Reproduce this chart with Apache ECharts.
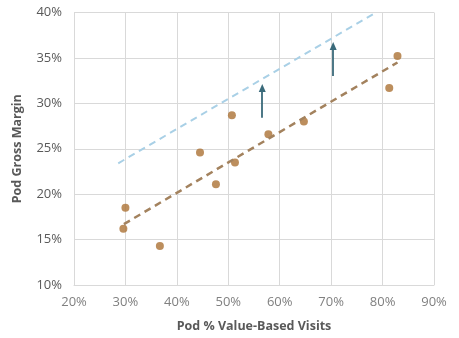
<!DOCTYPE html>
<html><head><meta charset="utf-8">
<script src="https://cdn.jsdelivr.net/npm/echarts@6/dist/echarts.min.js"></script>
<style>html,body{margin:0;padding:0;background:#fff}#c{width:459px;height:338px}</style>
</head><body><div id="c"></div>
<script>
var xTicks = [20, 30, 40, 50, 60, 70, 80, 90];
var yTicks = [10, 15, 20, 25, 30, 35, 40];
var podVisits = [29.6, 30.0, 36.7, 44.5, 47.6, 50.7, 51.3, 57.8, 64.7, 81.3, 82.9];
var podMargin = [16.2, 18.5, 14.3, 24.6, 21.1, 28.7, 23.5, 26.6, 28.0, 31.7, 35.2];
var trendX = [29.7, 82.9];
var trendY = [16.7, 34.5];
var targetX = [28.6, 78.7];
var targetY = [23.4, 40.0];
var arrowX = [56.6, 70.4];
var arrowFrom = [28.4, 33.0];
var arrowTo = [31.7, 36.3];

var pts = podVisits.map(function (v, i) { return [v, podMargin[i]]; });
var trend = trendX.map(function (v, i) { return [v, trendY[i]]; });
var target = targetX.map(function (v, i) { return [v, targetY[i]]; });
var arrows = arrowX.map(function (v, i) { return [{ coord: [v, arrowFrom[i]] }, { coord: [v, arrowTo[i]] }]; });

var font = '"Open Sans", "Liberation Sans", sans-serif';
var chart = echarts.init(document.getElementById('c'));
chart.setOption({
  animation: false,
  grid: { left: 74, top: 12.5, right: 25, bottom: 50.5 },
  xAxis: {
    type: 'value', min: xTicks[0], max: xTicks[xTicks.length - 1], interval: 10,
    name: 'Pod % Value-Based Visits', nameLocation: 'middle', nameGap: 35,
    nameTextStyle: { fontFamily: font, fontWeight: 'bold', fontSize: 12.5, color: '#595959' },
    axisLine: { show: true, lineStyle: { color: '#d9d9d9' } },
    axisTick: { show: false },
    axisLabel: { fontFamily: font, fontSize: 13, color: '#808080', margin: 11, formatter: '{value}%' },
    splitLine: { show: true, lineStyle: { color: '#d9d9d9' } }
  },
  yAxis: {
    type: 'value', min: yTicks[0], max: yTicks[yTicks.length - 1], interval: 5,
    name: 'Pod Gross Margin', nameLocation: 'middle', nameGap: 50,
    nameTextStyle: { fontFamily: font, fontWeight: 'bold', fontSize: 12.5, color: '#595959' },
    axisLine: { show: true, lineStyle: { color: '#d9d9d9' } },
    axisTick: { show: false },
    axisLabel: { fontFamily: font, fontSize: 13, color: '#595959', margin: 12, formatter: '{value}%' },
    splitLine: { show: true, lineStyle: { color: '#d9d9d9' } }
  },
  series: [
    {
      type: 'line', data: target, symbol: 'none', silent: true,
      lineStyle: { color: '#a9d0e6', width: 2, type: [7, 5] }
    },
    {
      type: 'line', data: trend, symbol: 'none', silent: true,
      lineStyle: { color: '#a3825e', width: 2.5, type: [7, 5] },
      markLine: {
        silent: true, symbol: ['none', 'triangle'], symbolSize: [7, 8],
        label: { show: false },
        lineStyle: { color: '#3a6a7a', width: 1.8, type: 'solid' },
        data: arrows
      }
    },
    {
      type: 'scatter', data: pts, symbol: 'circle', symbolSize: 8,
      itemStyle: { color: '#ab7234' }
    }
  ]
});
</script></body></html>
